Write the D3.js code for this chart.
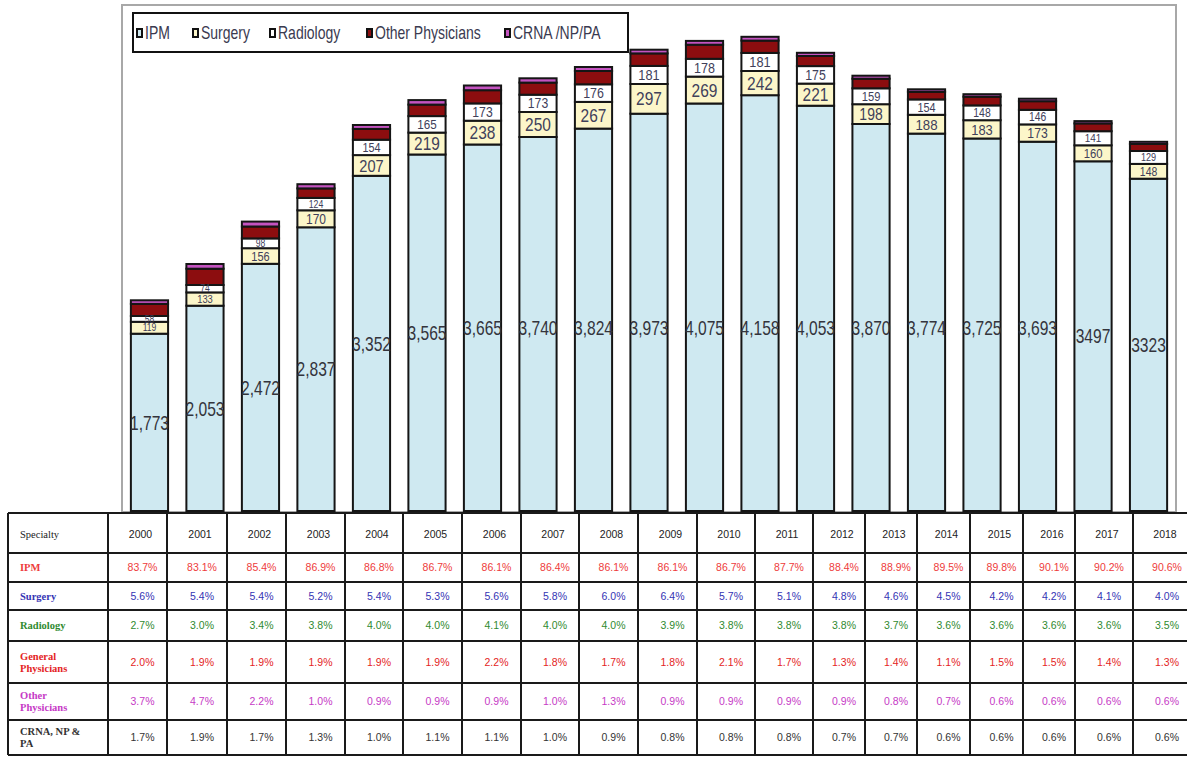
<!DOCTYPE html>
<html>
<head>
<meta charset="utf-8">
<script src="https://cdn.jsdelivr.net/npm/d3@7"></script>
<style>
  html, body { margin: 0; padding: 0; background: #fff; }
  svg { display: block; }
  .sans { font-family: "Liberation Sans", Arial, sans-serif; }
  .serif { font-family: "Liberation Serif", "Times New Roman", serif; }
</style>
</head>
<body>
<svg id="chart" width="1187" height="757"></svg>
<script>
// ---- data ----
const years = [2000, 2001, 2002, 2003, 2004, 2005, 2006, 2007, 2008, 2009,
               2010, 2011, 2012, 2013, 2014, 2015, 2016, 2017, 2018];
const ipm       = [1773, 2053, 2472, 2837, 3352, 3565, 3665, 3740, 3824, 3973,
                   4075, 4158, 4053, 3870, 3774, 3725, 3693, 3497, 3323];
const surgery   = [119, 133, 156, 170, 207, 219, 238, 250, 267, 297,
                   269, 242, 221, 198, 188, 183, 173, 160, 148];
const radiology = [58, 74, 98, 124, 154, 165, 173, 173, 176, 181,
                   178, 181, 175, 159, 154, 148, 146, 141, 129];
const otherPhysicians = [121, 163, 119, 95, 108, 115, 132, 121, 133, 125,
                         141, 123, 101, 96, 76, 87, 86, 78, 70];
const crna      = [36, 47, 49, 42, 39, 45, 47, 43, 40, 37,
                   38, 38, 32, 30, 25, 25, 25, 23, 22];

const seriesNames = ["IPM", "Surgery", "Radiology", "Other Physicians", "CRNA /NP/PA"];
const legendLabels = ["IPM", "Surgery", "Radiology", "Other Physicians", "CRNA /NP/PA"];

// percentage table
const tableRowLabels = [["IPM"], ["Surgery"], ["Radiology"], ["General", "Physicians"],
                        ["Other", "Physicians"], ["CRNA, NP &", "PA"]];
const pctIPM       = [83.7, 83.1, 85.4, 86.9, 86.8, 86.7, 86.1, 86.4, 86.1, 86.1,
                      86.7, 87.7, 88.4, 88.9, 89.5, 89.8, 90.1, 90.2, 90.6];
const pctSurgery   = [5.6, 5.4, 5.4, 5.2, 5.4, 5.3, 5.6, 5.8, 6.0, 6.4,
                      5.7, 5.1, 4.8, 4.6, 4.5, 4.2, 4.2, 4.1, 4.0];
const pctRadiology = [2.7, 3.0, 3.4, 3.8, 4.0, 4.0, 4.1, 4.0, 4.0, 3.9,
                      3.8, 3.8, 3.8, 3.7, 3.6, 3.6, 3.6, 3.6, 3.5];
const pctGeneral   = [2.0, 1.9, 1.9, 1.9, 1.9, 1.9, 2.2, 1.8, 1.7, 1.8,
                      2.1, 1.7, 1.3, 1.4, 1.1, 1.5, 1.5, 1.4, 1.3];
const pctOther     = [3.7, 4.7, 2.2, 1.0, 0.9, 0.9, 0.9, 1.0, 1.3, 0.9,
                      0.9, 0.9, 0.9, 0.8, 0.7, 0.6, 0.6, 0.6, 0.6];
const pctCRNA      = [1.7, 1.9, 1.7, 1.3, 1.0, 1.1, 1.1, 1.0, 0.9, 0.8,
                      0.8, 0.8, 0.7, 0.7, 0.6, 0.6, 0.6, 0.6, 0.6];

// ---- styling / layout ----
const fills = ["#cfe9f1", "#fcf6c9", "#ffffff", "#8c0d0f", "#c453c0"];
const rowColors = ["#ee3b3b", "#3434b4", "#2f8a2f", "#e42424", "#c63ac6", "#333333"];
const colEdges = [8, 108, 167, 227, 286, 345, 403, 462, 521, 579, 638, 697, 755,
                  813, 865, 917, 970, 1023, 1075, 1133, 1191];
const rowEdges = [513, 553, 582, 610, 641, 683, 720, 755];

const svg = d3.select("#chart");

// condensed text: regular face squeezed horizontally
function squeezed(sel, px, py, sx) {
  return sel.attr("transform", `translate(${px},${py}) scale(${sx},1)`);
}

// plot frame
const frame = { left: 122, right: 1176, top: 5, bottom: 512 };
svg.append("rect")
  .attr("x", frame.left).attr("y", frame.top)
  .attr("width", frame.right - frame.left).attr("height", frame.bottom - frame.top)
  .attr("fill", "#fff").attr("stroke", "#a8a8a8").attr("stroke-width", 2);

const x = d3.scaleBand().domain(years)
  .range([frame.left, frame.right]).paddingInner(0.33).paddingOuter(0.16);
const y = d3.scaleLinear().domain([0, 5000]).range([511, 11]);

// stacked bars
const rows = years.map((yr, i) => ({
  year: yr, "IPM": ipm[i], "Surgery": surgery[i], "Radiology": radiology[i],
  "Other Physicians": otherPhysicians[i], "CRNA /NP/PA": crna[i]
}));
const stack = d3.stack().keys(seriesNames)(rows);

const layers = svg.append("g").selectAll("g").data(stack).join("g")
  .attr("fill", (d, i) => fills[i]);
layers.selectAll("rect").data(d => d).join("rect")
  .attr("x", d => x(d.data.year))
  .attr("width", x.bandwidth())
  .attr("y", d => y(d[1]))
  .attr("height", d => y(d[0]) - y(d[1]))
  .attr("stroke", "#151515").attr("stroke-width", 2);

// IPM value labels: centred in the segment, but never above a common baseline row
const ipmFmt = (v, yr) => yr >= 2017 ? String(v) : d3.format(",")(v);
const labelRowY = 328;
svg.append("g").selectAll("text").data(stack[0]).join("text")
  .attr("class", "sans")
  .each(function (d) {
    const cy = Math.max(labelRowY, (y(d[0]) + y(d[1])) / 2);
    squeezed(d3.select(this), x(d.data.year) + x.bandwidth() / 2, cy, 0.78);
  })
  .attr("dy", "0.36em")
  .attr("text-anchor", "middle")
  .attr("font-size", 20)
  .attr("fill", "#34343c")
  .text(d => ipmFmt(d.data.IPM, d.data.year));

// surgery / radiology value labels, sized to their segment
[1, 2].forEach(k => {
  svg.append("g").selectAll("text").data(stack[k]).join("text")
    .attr("class", "sans")
    .each(function (d) {
      const h = y(d[0]) - y(d[1]);
      const fs = Math.max(10, Math.min(18, h * 0.82));
      squeezed(d3.select(this), x(d.data.year) + x.bandwidth() / 2, (y(d[0]) + y(d[1])) / 2, 0.86)
        .attr("font-size", fs);
    })
    .attr("dy", "0.36em")
    .attr("text-anchor", "middle")
    .attr("fill", "#40405a")
    .text(d => d.data[seriesNames[k]]);
});

// legend
const legend = svg.append("g");
legend.append("rect").attr("x", 133).attr("y", 13).attr("width", 495).attr("height", 39)
  .attr("fill", "#fff").attr("stroke", "#111").attr("stroke-width", 2);
const legendX = [137, 193, 270, 367, 505];
legendLabels.forEach((lab, i) => {
  legend.append("rect").attr("x", legendX[i]).attr("y", 29).attr("width", 5).attr("height", 8)
    .attr("fill", fills[i]).attr("stroke", "#111").attr("stroke-width", 2);
  squeezed(legend.append("text").attr("class", "sans"), legendX[i] + 8, 33, 0.8)
    .attr("dy", "0.36em")
    .attr("font-size", 17.5).attr("fill", "#3a3a50").text(lab);
});

// percentage table
const table = svg.append("g");
const pctRows = [pctIPM, pctSurgery, pctRadiology, pctGeneral, pctOther, pctCRNA];
table.append("rect").attr("x", colEdges[0]).attr("y", rowEdges[0])
  .attr("width", colEdges[colEdges.length - 1] - colEdges[0])
  .attr("height", rowEdges[rowEdges.length - 1] - rowEdges[0])
  .attr("fill", "#fff");

// header
table.append("text").attr("class", "serif")
  .attr("x", 20).attr("y", (rowEdges[0] + rowEdges[1]) / 2 + 1).attr("dy", "0.35em")
  .attr("font-size", 10.5).attr("fill", "#222").text("Specialty");
years.forEach((yr, j) => {
  const cx = (colEdges[j + 1] + colEdges[j + 2]) / 2 + 3;
  table.append("text").attr("class", "sans")
    .attr("x", cx).attr("y", (rowEdges[0] + rowEdges[1]) / 2 + 1).attr("dy", "0.35em")
    .attr("text-anchor", "middle").attr("font-size", 10.5).attr("fill", "#222")
    .text(yr);
});

// body rows
pctRows.forEach((vals, r) => {
  const top = rowEdges[r + 1], bot = rowEdges[r + 2], mid = (top + bot) / 2;
  const lines = tableRowLabels[r];
  lines.forEach((ln, li) => {
    table.append("text").attr("class", "serif")
      .attr("x", 20).attr("y", mid + (li - (lines.length - 1) / 2) * 12).attr("dy", "0.35em")
      .attr("font-size", 10.5).attr("font-weight", "bold").attr("fill", rowColors[r])
      .text(ln);
  });
  vals.forEach((v, j) => {
    const cx = (colEdges[j + 1] + colEdges[j + 2]) / 2 + 5;
    table.append("text").attr("class", "sans")
      .attr("x", cx).attr("y", mid).attr("dy", "0.35em")
      .attr("text-anchor", "middle").attr("font-size", 10.5).attr("fill", rowColors[r])
      .text(v.toFixed(1) + "%");
  });
});

// grid lines
colEdges.forEach(cx => {
  table.append("line").attr("x1", cx).attr("x2", cx)
    .attr("y1", rowEdges[0]).attr("y2", rowEdges[rowEdges.length - 1])
    .attr("stroke", "#1a1a1a").attr("stroke-width", 2);
});
rowEdges.forEach(ry => {
  table.append("line").attr("x1", colEdges[0]).attr("x2", colEdges[colEdges.length - 1])
    .attr("y1", ry).attr("y2", ry)
    .attr("stroke", "#1a1a1a").attr("stroke-width", 2);
});
</script>
</body>
</html>
